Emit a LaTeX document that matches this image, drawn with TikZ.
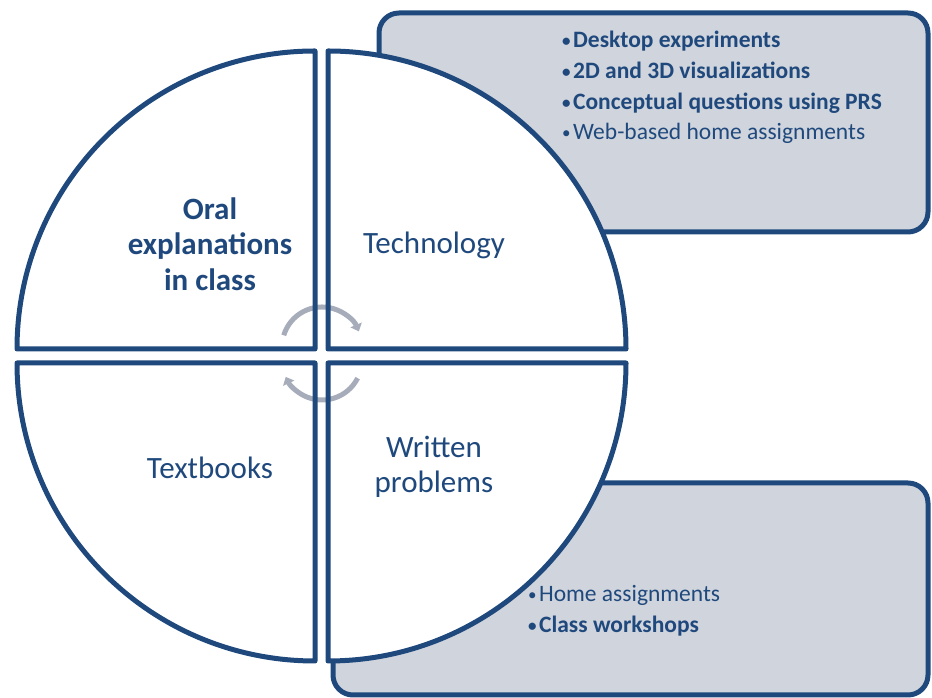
\documentclass[tikz,border=0pt]{standalone}
\usepackage{fontspec}
\setmainfont{Carlito}
\usepackage{tikz}
\usetikzlibrary{arrows.meta}
\definecolor{cycleblue}{HTML}{1F497D}
\definecolor{panelgrey}{HTML}{D0D4DC}
\definecolor{arrowgrey}{HTML}{A6ACB9}
\newcommand{\dotmark}{{\fontsize{17}{17}\selectfont\raisebox{1.5pt}{•}}\kern2.5pt}

\begin{document}
\begin{tikzpicture}[x=1pt, y=1pt,
    panel/.style = {draw=cycleblue, line width=5pt, fill=panelgrey, rounded corners=20pt},
    quarter/.style = {draw=cycleblue, line width=5pt, line join=round},
    label/.style = {text=cycleblue, font=\fontsize{31}{35.5}\selectfont, align=center},
    boldlabel/.style = {label, font=\bfseries\fontsize{31}{35.5}\selectfont},
    item/.style = {text=cycleblue, font=\fontsize{23.5}{28}\selectfont, anchor=base west, inner sep=0pt},
    turn/.style = {draw=arrowgrey, line width=5pt, -{Triangle[length=7pt,width=12pt]}}]
  \useasboundingbox (0,0) rectangle (932,698);

  % grey panels behind the circle
  \draw[panel] (379,466) rectangle (928,685);
  \draw[panel] (333,3) rectangle (928,215);

  % quarters: white fill first, outline after the turning arrows
  \foreach \cx/\cy/\a in {315/349/90, 328/349/0, 315/335/180, 328/335/270}
    \fill[white] (\cx,\cy) -- ++(\a:298) arc[start angle=\a, delta angle=90, radius=298] -- cycle;

  \draw[turn] (322,351) ++(163:40) arc[start angle=163, end angle=23, radius=40];
  \draw[turn] (322,338) ++(-27:40) arc[start angle=-27, end angle=-155, radius=40];

  \foreach \cx/\cy/\a in {315/349/90, 328/349/0, 315/335/180, 328/335/270}
    \draw[quarter] (\cx,\cy) -- ++(\a:298) arc[start angle=\a, delta angle=90, radius=298] -- cycle;

  \node[boldlabel] (oral) at (210,454) {Oral\\explanations\\in class};
  \node[label] (tech) at (434,453) {Technology};
  \node[label] (books) at (210,230) {Textbooks};
  \node[label] (written) at (434,231) {Written\\problems};

  \node[item] (desk) at (562,650) {\bfseries\dotmark Desktop experiments};
  \node[item] (visual) at (562,619) {\bfseries\dotmark 2D and 3D visualizations};
  \node[item] (prs) at (562,588) {\bfseries\dotmark Conceptual questions using PRS};
  \node[item] (web) at (562,558) {\dotmark Web-based home assignments};

  \node[item] (home) at (528,96) {\dotmark Home assignments};
  \node[item] (workshop) at (528,65) {\bfseries\dotmark Class workshops};
\end{tikzpicture}
\end{document}
